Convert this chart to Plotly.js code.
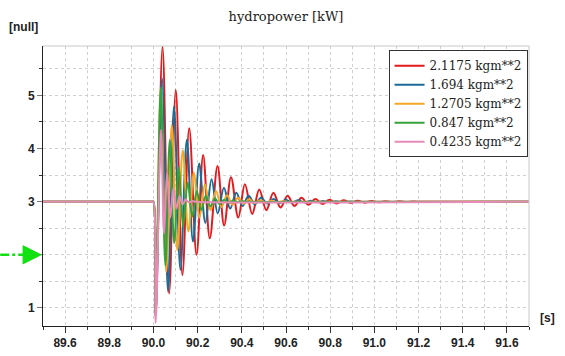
<!DOCTYPE html>
<html>
<head>
<meta charset="utf-8">
<script src="https://cdn.plot.ly/plotly-3.0.1.min.js"></script>
<style>html,body{margin:0;padding:0;background:#fff;}#chart{width:565px;height:356px;}</style>
</head>
<body>
<div id="chart"></div>
<script>
// ---- data ----
const seriesNames = ["2.1175 kgm**2", "1.694 kgm**2", "1.2705 kgm**2", "0.847 kgm**2", "0.4235 kgm**2"];
const seriesColors = ["#e3191c", "#1b6b98", "#f5a623", "#36a23a", "#e98bb8"];

const tRed = [89.5, 89.995, 90.0, 90.01, 90.041, 90.071, 90.101, 90.131, 90.162, 90.195, 90.225, 90.255, 90.29, 90.32, 90.351, 90.384, 90.414, 90.447, 90.479, 90.511, 90.543, 90.575, 90.607, 90.638, 90.67, 90.702, 90.733, 90.765, 90.797, 90.829, 90.86, 90.892, 90.924, 90.956, 90.987, 91.019, 91.05, 91.082, 91.114, 91.146, 91.178, 91.21, 91.26, 91.72];
const vRed = [3, 3, 3, 0.85, 5.92, 1.27, 5.10, 1.62, 4.38, 2.00, 3.88, 2.31, 3.67, 2.55, 3.46, 2.70, 3.33, 2.77, 3.23, 2.84, 3.17, 2.89, 3.11, 2.92, 3.075, 2.94, 3.05, 2.955, 3.035, 2.965, 3.025, 2.975, 3.018, 2.982, 3.013, 2.988, 3.009, 2.992, 3.006, 2.995, 3.004, 2.997, 3, 3];

const tBlue = [89.5, 89.995, 90.0, 90.01, 90.039, 90.066, 90.093, 90.122, 90.151, 90.179, 90.207, 90.235, 90.263, 90.291, 90.319, 90.347, 90.375, 90.403, 90.431, 90.459, 90.487, 90.515, 90.543, 90.571, 90.599, 90.627, 90.655, 90.683, 90.711, 90.739, 90.767, 90.795, 90.823, 90.851, 90.879, 90.92, 91.72];
const vBlue = [3, 3, 3, 0.85, 5.32, 1.31, 4.79, 1.72, 4.16, 2.25, 3.72, 2.60, 3.42, 2.78, 3.26, 2.87, 3.17, 2.92, 3.11, 2.95, 3.075, 2.965, 3.05, 2.975, 3.035, 2.982, 3.025, 2.987, 3.017, 2.991, 3.012, 2.994, 3.008, 2.996, 3.005, 3, 3];

const tYellow = [89.5, 89.995, 90.0, 90.01, 90.033, 90.058, 90.083, 90.108, 90.133, 90.158, 90.183, 90.208, 90.233, 90.258, 90.283, 90.308, 90.333, 90.358, 90.383, 90.408, 90.433, 90.458, 90.483, 90.508, 90.533, 90.558, 90.583, 90.608, 90.64, 91.72];
const vYellow = [3, 3, 3, 0.85, 5.13, 1.68, 4.44, 2.09, 3.97, 2.44, 3.55, 2.70, 3.33, 2.84, 3.20, 2.90, 3.12, 2.94, 3.075, 2.96, 3.045, 2.975, 3.028, 2.985, 3.016, 2.991, 3.009, 2.995, 3, 3];

const tGreen = [89.5, 89.995, 90.0, 90.01, 90.033, 90.054, 90.074, 90.094, 90.115, 90.134, 90.155, 90.176, 90.196, 90.217, 90.237, 90.258, 90.278, 90.299, 90.32, 90.34, 90.361, 90.381, 90.402, 90.43, 91.72];
const vGreen = [3, 3, 3, 0.85, 5.15, 1.80, 4.16, 2.22, 3.65, 2.53, 3.36, 2.72, 3.20, 2.84, 3.11, 2.91, 3.06, 2.95, 3.035, 2.975, 3.018, 2.99, 3.008, 3, 3];

const tPink = [89.5, 89.995, 90.0, 90.01, 90.034, 90.048, 90.062, 90.076, 90.09, 90.104, 90.118, 90.132, 90.146, 90.16, 90.174, 90.19, 91.72];
const vPink = [3, 3, 3, 0.72, 4.35, 2.40, 3.55, 2.70, 3.25, 2.87, 3.10, 2.95, 3.04, 2.985, 3.01, 3, 3];

const xTickVals = [89.6, 89.8, 90.0, 90.2, 90.4, 90.6, 90.8, 91.0, 91.2, 91.4, 91.6];
const xTickText = ["89.6", "89.8", "90.0", "90.2", "90.4", "90.6", "90.8", "91.0", "91.2", "91.4", "91.6"];
const yTickVals = [1, 2, 3, 4, 5];
const yTickText = ["1", "", "3", "4", "5"];
const inputLevel = 2;

const titleText = "hydropower [kW]";
const yUnit = "[null]";
const xUnit = "[s]";

// ---- build traces ----
const ts = [tRed, tBlue, tYellow, tGreen, tPink];
const vs = [vRed, vBlue, vYellow, vGreen, vPink];
const traces = ts.map((t, i) => ({
  x: t, y: vs[i], type: "scatter", mode: "lines", name: seriesNames[i],
  line: {color: seriesColors[i], width: 2, shape: "spline", smoothing: 1}
}));

const grid = {showgrid: true, gridcolor: "#cfcfcf", griddash: "dot", gridwidth: 1};
const layout = {
  width: 565, height: 356,
  margin: {l: 43, r: 36, t: 46, b: 30},
  paper_bgcolor: "#fff", plot_bgcolor: "#fff",
  title: {text: titleText, x: 0.5, xref: "paper", y: 0.955, yref: "container", yanchor: "middle",
          font: {family: "DejaVu Serif, serif", size: 13, color: "#222"}},
  xaxis: Object.assign({
    range: [89.5, 91.7], tickmode: "array", tickvals: xTickVals, ticktext: xTickText,
    ticks: "outside", ticklen: 6, tickcolor: "#333", tickwidth: 1,
    showline: true, linecolor: "#222", linewidth: 1, zeroline: false,
    tickfont: {family: "Liberation Sans, Arial", size: 12, color: "#222", weight: "bold"},
    minor: {dtick: 0.1, tick0: 89.5, ticks: "outside", ticklen: 3, tickcolor: "#333", showgrid: true, gridcolor: "#cfcfcf", griddash: "dot"}
  }, grid),
  yaxis: Object.assign({
    range: [0.66, 5.93], tickmode: "array", tickvals: yTickVals, ticktext: yTickText,
    ticks: "outside", ticklen: 5, tickcolor: "#777", tickwidth: 1,
    showline: true, linecolor: "#222", linewidth: 1, zeroline: false,
    tickfont: {family: "Liberation Sans, Arial", size: 12, color: "#222", weight: "bold"},
    minor: {dtick: 0.5, tick0: 0.5, ticks: "outside", ticklen: 3, tickcolor: "#333", showgrid: true, gridcolor: "#cfcfcf", griddash: "dot"}
  }, grid),
  legend: {x: 0.997, xanchor: "right", y: 0.985, yanchor: "top", bgcolor: "#fff",
           bordercolor: "#333", borderwidth: 1,
           font: {family: "DejaVu Serif, serif", size: 12, color: "#222"}},
  shapes: [
    {type: "line", xref: "paper", yref: "paper", x0: 0, x1: 1, y0: 1, y1: 1, line: {color: "#c8c8c8", width: 1}},
    {type: "line", xref: "paper", yref: "paper", x0: 1, x1: 1, y0: 0, y1: 1, line: {color: "#c8c8c8", width: 1}},
    {type: "line", xref: "paper", yref: "y", x0: -0.088, x1: -0.04, y0: inputLevel, y1: inputLevel,
     line: {color: "#11e011", width: 2.5, dash: "dashdot"}},
    {type: "path", xref: "paper", yref: "y",
     path: "M -0.041," + (inputLevel + 0.17) + " L -0.004," + inputLevel + " L -0.041," + (inputLevel - 0.17) + " Z",
     fillcolor: "#11e011", line: {color: "#11e011", width: 1}}
  ],
  annotations: [
    {text: "<b>" + yUnit + "</b>", xref: "paper", yref: "paper", x: -0.074, y: 1.068, xanchor: "left", yanchor: "middle",
     showarrow: false, font: {family: "Liberation Sans, Arial", size: 12, color: "#222"}},
    {text: "<b>" + xUnit + "</b>", xref: "paper", yref: "paper", x: 1.039, y: 0.029, xanchor: "center", yanchor: "middle",
     showarrow: false, font: {family: "Liberation Sans, Arial", size: 12, color: "#222"}}
  ],
  showlegend: true
};

Plotly.newPlot("chart", traces, layout, {staticPlot: true, displayModeBar: false});
</script>
</body>
</html>
